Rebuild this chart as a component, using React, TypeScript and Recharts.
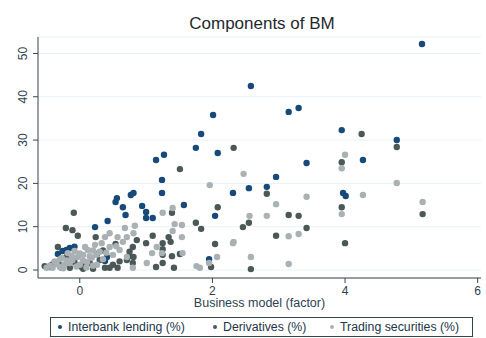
import {
  CartesianGrid,
  Legend,
  Scatter,
  ScatterChart,
  XAxis,
  YAxis,
} from 'recharts';

// [business model factor, share %]
const interbankLending: [number, number][] = [
  [5.16, 52.2], [2.58, 42.5], [2.01, 35.8], [3.15, 36.5], [3.3, 37.4],
  [1.83, 31.4], [1.75, 28.2], [2.08, 27.0], [1.15, 25.4], [1.27, 26.6],
  [1.24, 20.8], [1.24, 17.8], [1.57, 15.0], [2.55, 18.9], [2.31, 17.8],
  [2.82, 19.2], [2.96, 21.5], [3.42, 24.7], [3.95, 32.3], [4.27, 25.4],
  [4.78, 30.0], [3.97, 17.8], [4.01, 17.1], [0.56, 16.6], [0.54, 15.7],
  [0.65, 14.5], [0.69, 12.7], [0.77, 17.3], [0.81, 17.8], [0.94, 14.8],
  [1.0, 13.4], [1.0, 12.0], [1.1, 12.0], [0.42, 11.3], [0.23, 9.9],
  [2.04, 12.5], [1.95, 2.5], [0.75, 3.2], [0.41, 3.0], [0.38, 2.1],
  [-0.15, 5.1], [-0.26, 4.4], [-0.2, 4.6], [-0.33, 3.7], [-0.08, 5.4],
];

const derivatives: [number, number][] = [
  [1.51, 23.3], [2.32, 28.2], [-0.09, 13.2], [-0.21, 9.7], [-0.11, 9.2],
  [-0.03, 7.9], [0.24, 7.6], [1.39, 13.2], [1.75, 10.9], [1.83, 9.5],
  [2.08, 14.5], [2.04, 6.0], [1.98, 0.7], [2.46, 9.9], [2.55, 10.9],
  [1.1, 7.9], [1.25, 6.2], [1.25, 4.8], [1.25, 3.5], [1.25, 1.6],
  [1.42, 0.5], [1.39, 3.2], [1.51, 3.7], [1.34, 7.6], [1.37, 6.5],
  [1.15, 0.7], [1.0, 6.2], [0.86, 6.9], [0.8, 5.3], [0.75, 4.2],
  [0.81, 3.0], [0.8, 1.6], [0.71, 2.3], [0.54, 6.0], [0.5, 1.2],
  [0.38, 0.5], [0.45, 0.5], [0.57, 0.5], [0.26, 3.7], [0.3, 2.3],
  [0.15, 1.6], [0.03, 0.7], [-0.33, 5.3], [-0.38, 1.8], [-0.45, 0.7],
  [-0.2, 3.0], [-0.32, 1.6], [4.25, 31.4], [4.78, 28.4], [3.95, 24.9],
  [2.82, 17.6], [3.15, 12.7], [3.3, 12.5], [3.42, 9.7], [2.96, 7.9],
  [3.95, 14.5], [4.0, 6.2], [5.17, 12.9], [2.58, 0.2], [0.08, 1.2],
  [-0.08, 1.8], [-0.53, 0.9], [-0.42, 1.2], [-0.28, 0.6], [0.05, 0.3],
  [0.2, 0.3], [-0.15, 0.5], [0.35, 4.5], [0.6, 2.0],
];

const tradingSecurities: [number, number][] = [
  [1.96, 19.6], [2.32, 6.5], [1.54, 7.6], [1.54, 10.4], [1.25, 13.2],
  [1.4, 14.3], [1.43, 10.6], [1.4, 9.0], [1.55, 3.9], [1.95, 1.6],
  [2.07, 3.0], [1.81, 0.5], [1.76, 0.9], [1.16, 5.3], [1.24, 3.9],
  [1.09, 3.9], [1.01, 1.6], [0.83, 10.2], [0.81, 8.5], [0.71, 7.6],
  [0.68, 9.7], [0.57, 7.6], [0.45, 8.5], [0.38, 7.6], [0.33, 6.2],
  [0.45, 5.3], [0.6, 4.6], [0.71, 3.0], [0.3, 4.2], [0.26, 1.2],
  [0.8, 0.5], [0.08, 5.3], [0.12, 4.6], [0.05, 3.5], [-0.03, 3.0],
  [-0.11, 2.3], [-0.15, 1.6], [-0.23, 1.2], [-0.3, 0.7], [-0.41, 0.5],
  [-0.5, 0.5], [0.0, 1.2], [0.11, 1.8], [2.47, 22.2], [4.0, 26.6],
  [3.95, 23.5], [4.78, 20.1], [3.42, 16.9], [2.96, 15.2], [2.82, 12.5],
  [2.56, 12.5], [4.27, 17.3], [3.95, 12.9], [5.17, 15.7], [2.31, 6.2],
  [3.15, 7.8], [3.3, 8.3], [2.58, 3.0], [3.15, 1.4], [-0.08, 4.4],
  [-0.18, 3.9], [-0.27, 2.8], [0.18, 2.8], [0.23, 5.8],
  [-0.45, 1.0], [-0.38, 2.0], [-0.3, 2.5], [-0.2, 2.2], [-0.12, 3.2],
  [0.0, 3.8], [0.05, 2.2], [0.15, 3.2], [0.2, 4.5], [0.25, 3.5],
  [-0.05, 0.8], [0.1, 0.6], [0.2, 1.0], [0.35, 2.5], [0.5, 3.5],
  [0.55, 5.5], [0.65, 6.5], [0.4, 4.0], [-0.25, 0.4], [-0.35, 1.4],
];

const xTicks = [0, 2, 4, 6];
const yTicks = [0, 10, 20, 30, 40, 50];

const SERIES = [
  { name: 'Interbank lending (%)', color: '#17497a', points: interbankLending },
  { name: 'Derivatives (%)', color: '#4b5856', points: derivatives },
  { name: 'Trading securities (%)', color: '#a9b1b4', points: tradingSecurities },
];

// legend slot widths, left to right
const LEGEND_SLOTS = [155, 117, 140];

const FONT = '"Liberation Sans", Arial, sans-serif';
const AXIS = '#34444c';
const LABEL = '#2e4252';

const dot = (color: string) => (props: any) => (
  <circle cx={props.cx} cy={props.cy} r={3.2} fill={color} />
);

const YTick = (props: any) => {
  const { y, payload } = props;
  return (
    <text
      transform={`translate(27,${y}) rotate(-90)`}
      textAnchor="middle"
      fontSize={12}
      fontFamily={FONT}
      fill={LABEL}
    >
      {payload.value}
    </text>
  );
};

const LegendBox = () => (
  <div
    style={{
      marginLeft: 50,
      width: 423,
      height: 20,
      boxSizing: 'border-box',
      border: `1px solid ${AXIS}`,
      display: 'flex',
      alignItems: 'center',
      fontFamily: FONT,
      fontSize: 12.3,
      color: '#22364a',
      paddingLeft: 7,
      whiteSpace: 'nowrap',
    }}
  >
    {SERIES.map((s, i) => (
      <div
        key={s.name}
        style={{ display: 'flex', alignItems: 'center', gap: 6, width: LEGEND_SLOTS[i] }}
      >
        <span
          style={{
            width: 4,
            height: 4,
            borderRadius: '50%',
            background: s.color,
            display: 'inline-block',
          }}
        />
        <span>{s.name}</span>
      </div>
    ))}
  </div>
);

export default function App() {
  return (
    <div
      style={{
        position: 'absolute',
        left: 0,
        top: 0,
        width: 486,
        height: 338,
        background: '#fff',
      }}
    >
      <div
        style={{
          position: 'absolute',
          top: 14,
          left: 38,
          width: 448,
          textAlign: 'center',
          fontFamily: FONT,
          fontSize: 17,
          color: '#1f2a30',
        }}
      >
        Components of BM
      </div>
      <ScatterChart
        width={486}
        height={338}
        margin={{ top: 37, right: 5, bottom: 1, left: 0 }}
      >
        <CartesianGrid vertical={false} stroke="#eaf1f6" />
        <XAxis
          type="number"
          dataKey="x"
          domain={[-0.63, 6.05]}
          ticks={xTicks}
          allowDataOverflow
          height={39}
          tickSize={5}
          tickMargin={3}
          stroke={AXIS}
          tick={{ fontSize: 12, fontFamily: FONT, fill: LABEL }}
          label={{
            value: 'Business model (factor)',
            position: 'insideBottom',
            offset: 10,
            fontSize: 12.5,
            fontFamily: FONT,
            fill: LABEL,
          }}
        />
        <YAxis
          type="number"
          dataKey="y"
          domain={[-1.85, 53.8]}
          ticks={yTicks}
          allowDataOverflow
          width={38}
          tickSize={5}
          stroke={AXIS}
          tick={<YTick />}
        />
        <Legend verticalAlign="bottom" height={20} content={<LegendBox />} />
        {SERIES.map((s) => (
          <Scatter
            key={s.name}
            name={s.name}
            data={s.points.map(([x, y]) => ({ x, y }))}
            fill={s.color}
            shape={dot(s.color)}
            isAnimationActive={false}
          />
        ))}
      </ScatterChart>
    </div>
  );
}
